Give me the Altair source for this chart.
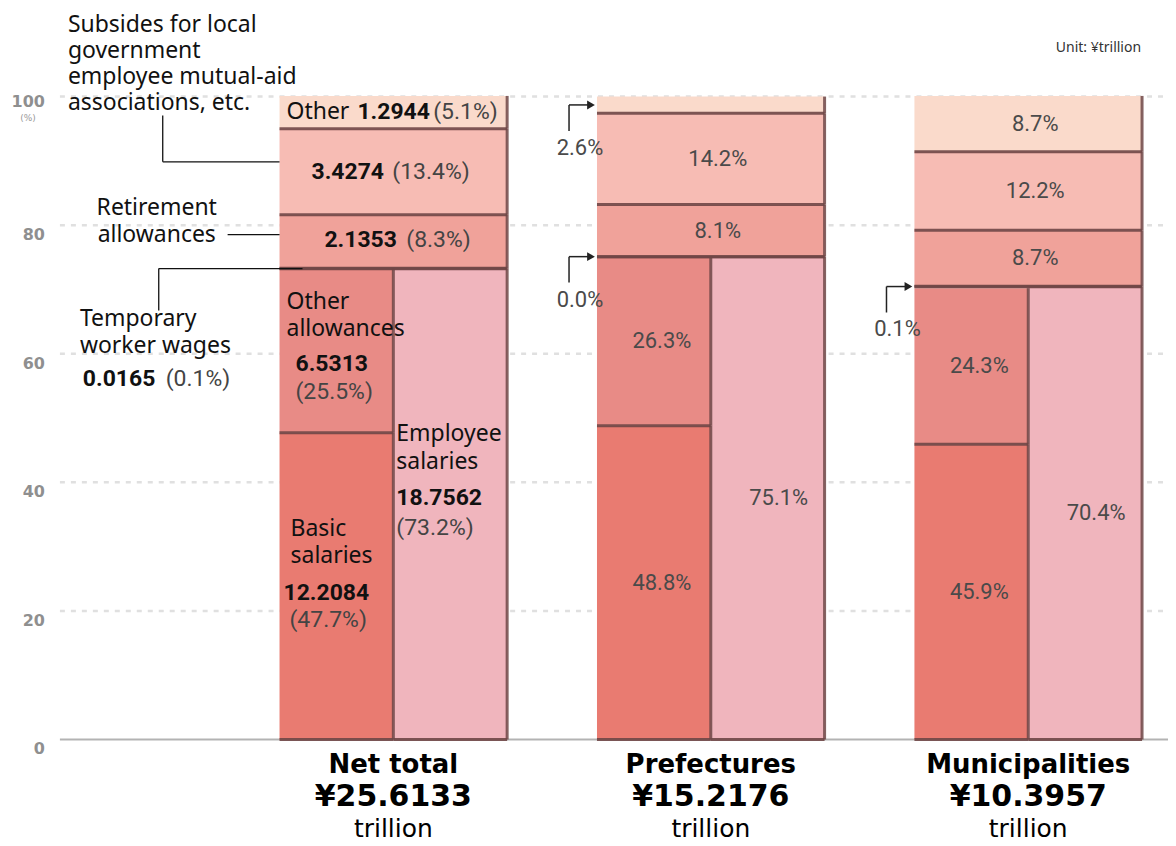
import altair as alt
import pandas as pd

# ---------------- data ----------------
groups = ["Net total", "Prefectures", "Municipalities"]
group_totals = ["¥25.6133", "¥15.2176", "¥10.3957"]
categories = ["Basic salaries", "Other allowances", "Employee salaries",
              "Temporary worker wages", "Retirement allowances",
              "Subsidies", "Other"]
basic_pct = [47.7, 48.8, 45.9]
other_allow_pct = [25.5, 26.3, 24.3]
employee_pct = [73.2, 75.1, 70.4]
temp_pct = [0.1, 0.0, 0.1]
retire_pct = [8.3, 8.1, 8.7]
subsidy_pct = [13.4, 14.2, 12.2]
other_pct = [5.1, 2.6, 8.7]
# Net total amounts (¥ trillion), same order as categories
net_amounts = [12.2084, 6.5313, 18.7562, 0.0165, 2.1353, 3.4274, 1.2944]
y_ticks = [0, 20, 40, 60, 80, 100]
colors = ["#E97B71", "#E88B86", "#F0B5BD", "#E99790", "#F0A29A", "#F7BCB4", "#FADACB"]
EDGE = "#6F4646"

# ---------------- layout ----------------
W, H = 1110, 644
PXU = H / 100.0
G0, PERIOD, COL = 220, 318, 114


def up(px):
    return px / PXU


def page_y(py):
    return 100 - (py - 96) / PXU


xs = alt.Scale(domain=[0, W], nice=False, zero=False)
ys = alt.Scale(domain=[0, 100], nice=False, zero=False)

rows = []
seg = {}
for i, g in enumerate(groups):
    x0 = G0 + i * PERIOD
    xm = x0 + COL
    x1 = x0 + 2 * COL
    b, oa, e = basic_pct[i], other_allow_pct[i], employee_pct[i]
    parts = [("Basic salaries", x0, xm, 0, b),
             ("Other allowances", x0, xm, b, b + oa),
             ("Employee salaries", xm, x1, 0, e)]
    base = e
    for cat, v in [("Temporary worker wages", temp_pct[i]),
                   ("Retirement allowances", retire_pct[i]),
                   ("Subsidies", subsidy_pct[i]),
                   ("Other", other_pct[i])]:
        parts.append((cat, x0, x1, base, base + v))
        base += v
    for cat, a, bb, y0, y1 in parts:
        rows.append(dict(group=g, cat=cat, x0=a, x1=bb, y0=y0, y1=y1))
        seg[(i, cat)] = (a, bb, y0, y1)
segdf = pd.DataFrame(rows)


def mid(i, cat):
    a, bb, y0, y1 = seg[(i, cat)]
    return (y0 + y1) / 2


def top(i, cat):
    return seg[(i, cat)][3]


# ---------------- texts ----------------
texts = []


def T(t, x, y, style):
    texts.append(dict(t=t, x=x, y=y, style=style))


# y-axis labels
for v in y_ticks:
    T(str(v), -15, v - up(10 if v < 100 else 5), "ytick")
T("(%)", -32, page_y(117), "ypct")
T("Unit: ¥trillion", 1083, page_y(47), "unit")

# Net total group
x0 = G0
amt = dict(zip(categories, net_amounts))
pct = {"Basic salaries": basic_pct[0], "Other allowances": other_allow_pct[0],
       "Employee salaries": employee_pct[0], "Temporary worker wages": temp_pct[0],
       "Retirement allowances": retire_pct[0], "Subsidies": subsidy_pct[0],
       "Other": other_pct[0]}
ym = mid(0, "Other")
T("Other", x0 + 7, ym, "word")
T(f"{amt['Other']:.4f}", x0 + 78, ym, "num")
T(f"({pct['Other']:.1f}%)", x0 + 154, ym, "pct")
ym = mid(0, "Subsidies")
T(f"{amt['Subsidies']:.4f}", x0 + 32, ym, "num")
T(f"({pct['Subsidies']:.1f}%)", x0 + 113, ym, "pct")
ym = mid(0, "Retirement allowances") + up(2)
T(f"{amt['Retirement allowances']:.4f}", x0 + 45, ym, "num")
T(f"({pct['Retirement allowances']:.1f}%)", x0 + 127, ym, "pct")
yt = top(0, "Other allowances")
T("Other", x0 + 7, yt - up(33), "word")
T("allowances", x0 + 7, yt - up(60), "word")
T(f"{amt['Other allowances']:.4f}", x0 + 16, yt - up(95), "num")
T(f"({pct['Other allowances']:.1f}%)", x0 + 16, yt - up(123), "pct")
yt = top(0, "Basic salaries")
T("Basic", x0 + 11, yt - up(96), "word")
T("salaries", x0 + 11, yt - up(123), "word")
T(f"{amt['Basic salaries']:.4f}", x0 + 4, yt - up(160), "num")
T(f"({pct['Basic salaries']:.1f}%)", x0 + 10, yt - up(188), "pct")
yt = top(0, "Employee salaries")
T("Employee", x0 + 117, yt - up(165), "word")
T("salaries", x0 + 117, yt - up(193), "word")
T(f"{amt['Employee salaries']:.4f}", x0 + 117, yt - up(230), "num")
T(f"({pct['Employee salaries']:.1f}%)", x0 + 117, yt - up(260), "pct")

# left-side annotations
for k, line in enumerate(["Subsides for local", "government",
                          "employee mutual-aid", "associations, etc."]):
    T(line, 8, page_y(24 + 26 * k), "word")
sub_leader = mid(0, "Subsidies") + up(10)
ret_leader = mid(0, "Retirement allowances") + up(7)
T("Retirement", 97, ret_leader + up(27), "word_c")
T("allowances", 97, ret_leader, "word_c")
tmp_leader = mid(0, "Temporary worker wages")
T("Temporary", 20, tmp_leader - up(51), "word")
T("worker wages", 20, tmp_leader - up(78), "word")
T(f"{amt['Temporary worker wages']:.4f}", 23, tmp_leader - up(111), "num")
T(f"({pct['Temporary worker wages']:.1f}%)", 106, tmp_leader - up(111), "pct")

leaders = pd.DataFrame([
    dict(a=103, b=103, y=sub_leader, y2=page_y(115)),
    dict(a=103, b=G0, y=sub_leader, y2=sub_leader),
    dict(a=168, b=G0, y=ret_leader, y2=ret_leader),
    dict(a=99, b=99, y=tmp_leader, y2=tmp_leader - up(42)),
    dict(a=99, b=G0 + 23, y=tmp_leader, y2=tmp_leader),
])

# Prefectures / Municipalities
pcts = [None,
        dict(zip(categories, [basic_pct[1], other_allow_pct[1], employee_pct[1], temp_pct[1],
                              retire_pct[1], subsidy_pct[1], other_pct[1]])),
        dict(zip(categories, [basic_pct[2], other_allow_pct[2], employee_pct[2], temp_pct[2],
                              retire_pct[2], subsidy_pct[2], other_pct[2]]))]
arrow_rows = []
for i in (1, 2):
    x0 = G0 + i * PERIOD
    p = pcts[i]
    for cat in ["Subsidies", "Retirement allowances"]:
        T(f"{p[cat]:.1f}%", x0 + 121, mid(i, cat), "pp")
    for cat in ["Other allowances", "Basic salaries"]:
        T(f"{p[cat]:.1f}%", x0 + 65, mid(i, cat), "pp")
    T(f"{p['Employee salaries']:.1f}%", x0 + 182, mid(i, "Employee salaries"), "pp")
    if i == 2:
        T(f"{p['Other']:.1f}%", x0 + 121, mid(i, "Other"), "pp")
    else:
        arrow_rows.append((x0, mid(i, "Other"), p["Other"]))
    arrow_rows.append((x0, mid(i, "Temporary worker wages"), p["Temporary worker wages"]))

arr_lines = []
arr_heads = []
for x0, ty, v in arrow_rows:
    arr_lines.append(dict(a=x0 - 28, b=x0 - 28, y=ty, y2=ty - up(26)))
    arr_lines.append(dict(a=x0 - 28, b=x0 - 8, y=ty, y2=ty))
    arr_heads.append(dict(x=x0 - 6, y=ty))
    T(f"{v:.1f}%", x0 - 17, ty - up(43), "pp")
arr_lines = pd.DataFrame(arr_lines)
arr_heads = pd.DataFrame(arr_heads)

# bottom labels
for i, g in enumerate(groups):
    cx = G0 + i * PERIOD + COL
    T(g, cx, page_y(766), "b1")
    T(group_totals[i], cx, page_y(798), "b2")
    T("trillion", cx, page_y(830), "b3")

textdf = pd.DataFrame(texts)

styles = {
    "word": dict(font="Noto Sans", fontSize=23, color="#111", align="left"),
    "word_c": dict(font="Noto Sans", fontSize=23, color="#111", align="center"),
    "num": dict(font="Roboto", fontSize=23, fontWeight="bold", color="#111", align="left"),
    "pct": dict(font="Roboto", fontSize=23, color="#444", align="left"),
    "pp": dict(font="Roboto", fontSize=22, color="#4a4a4a", align="center"),
    "b1": dict(font="DejaVu Sans", fontSize=26, fontWeight="bold", color="#000", align="center"),
    "b2": dict(font="DejaVu Sans", fontSize=30, fontWeight="bold", color="#000", align="center"),
    "b3": dict(font="DejaVu Sans", fontSize=25, color="#000", align="center"),
    "unit": dict(font="Noto Sans", fontSize=14, color="#333", align="right"),
    "ytick": dict(font="DejaVu Sans", fontSize=16, fontWeight="bold", color="#8f8f8f", align="right"),
    "ypct": dict(font="DejaVu Sans", fontSize=9, color="#999", align="center"),
}

# ---------------- marks ----------------
grid_df = pd.DataFrame(dict(v=[t for t in y_ticks if t > 0]))
grid_df["a"] = 0
grid_df["b"] = W
base_df = pd.DataFrame(dict(v=[0], a=[0], b=[W]))

grid = alt.Chart(grid_df).mark_rule(color="#e0e0e0", strokeWidth=2.5, strokeDash=[5, 6]).encode(
    x=alt.X("a:Q", scale=xs, axis=None), x2="b:Q", y=alt.Y("v:Q", scale=ys, axis=None))
baseline = alt.Chart(base_df).mark_rule(color="#b3b3b3", strokeWidth=2).encode(
    x=alt.X("a:Q", scale=xs, axis=None), x2="b:Q", y=alt.Y("v:Q", scale=ys, axis=None))

bars = alt.Chart(segdf).mark_rect().encode(
    x=alt.X("x0:Q", scale=xs, axis=None), x2="x1:Q",
    y=alt.Y("y0:Q", scale=ys, axis=None), y2="y1:Q",
    color=alt.Color("cat:N", scale=alt.Scale(domain=categories, range=colors), legend=None))
bottom_edges = alt.Chart(segdf).mark_rule(color=EDGE, strokeWidth=3, opacity=0.9).encode(
    x=alt.X("x0:Q", scale=xs, axis=None), x2="x1:Q", y=alt.Y("y0:Q", scale=ys, axis=None))
right_edges = alt.Chart(segdf).mark_rule(color=EDGE, strokeWidth=3, opacity=0.85).encode(
    x=alt.X("x1:Q", scale=xs, axis=None), y=alt.Y("y0:Q", scale=ys, axis=None), y2="y1:Q")

lead = alt.Chart(leaders).mark_rule(color="#111", strokeWidth=1.3).encode(
    x=alt.X("a:Q", scale=xs, axis=None), x2="b:Q",
    y=alt.Y("y:Q", scale=ys, axis=None), y2="y2:Q")
arr = alt.Chart(arr_lines).mark_rule(color="#222", strokeWidth=1.5).encode(
    x=alt.X("a:Q", scale=xs, axis=None), x2="b:Q",
    y=alt.Y("y:Q", scale=ys, axis=None), y2="y2:Q")
heads = alt.Chart(arr_heads).mark_point(shape="triangle-right", filled=True, size=80,
                                         color="#222", opacity=1).encode(
    x=alt.X("x:Q", scale=xs, axis=None), y=alt.Y("y:Q", scale=ys, axis=None))

layers = [grid, baseline, bars, bottom_edges, right_edges, lead, arr, heads]
for name, kw in styles.items():
    sub = textdf[textdf["style"] == name]
    if len(sub) == 0:
        continue
    layers.append(alt.Chart(sub).mark_text(baseline="middle", **kw).encode(
        x=alt.X("x:Q", scale=xs, axis=None),
        y=alt.Y("y:Q", scale=ys, axis=None),
        text="t:N"))

chart = alt.layer(*layers).properties(
    width=W, height=H,
    padding={"left": 52, "top": 88, "right": 0, "bottom": 104},
    autosize="none",
).configure_view(stroke=None)

chart.save("out.html", embed_options={"renderer": "svg", "actions": False})
